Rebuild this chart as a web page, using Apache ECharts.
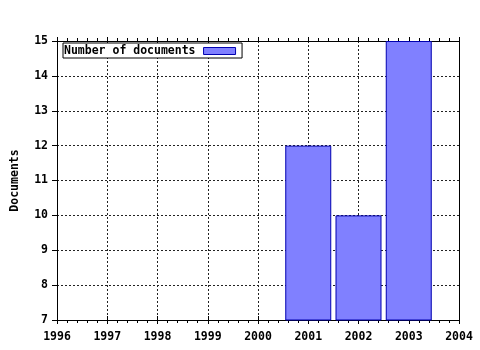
<!DOCTYPE html>
<html><head><meta charset="utf-8">
<script src="https://cdn.jsdelivr.net/npm/echarts@6/dist/echarts.min.js"></script>
<style>html,body{margin:0;padding:0;background:#fff}#c{width:480px;height:350px}</style>
</head><body><div id="c"></div>
<script>
const years = [2001, 2002, 2003];
const documents = [12, 10, 15];
const xMin = 1996, xMax = 2004;
const yMin = 7, yMax = 15;
const seriesName = 'Number of documents';
const yTitle = 'Documents';

const font = 'DejaVu Sans Mono';
const chart = echarts.init(document.getElementById('c'), null, {renderer: 'canvas'});
const labelStyle = {color: '#000', fontFamily: font, fontWeight: 'bold', fontSize: 11.5};
const gridDash = {color: '#222', type: [2, 2], width: 1};
chart.setOption({
  animation: false,
  backgroundColor: '#fff',
  grid: {left: 57, top: 41, right: 21, bottom: 30, containLabel: false},
  legend: {
    left: 63, top: 43, align: 'right', orient: 'horizontal',
    padding: [2, 6, 1, 1], borderColor: '#000', borderWidth: 1, backgroundColor: '#fff',
    itemWidth: 32, itemHeight: 7, icon: 'rect',
    itemStyle: {borderWidth: 1, borderColor: '#0000b0'},
    textStyle: Object.assign({}, labelStyle, {padding: [0, 3, 0, 0]}),
    data: [seriesName]
  },
  xAxis: [
    {type: 'value', position: 'bottom', min: xMin, max: xMax, interval: 1,
     axisLine: {lineStyle: {color: '#000', width: 1}},
     axisTick: {show: true, inside: false, length: 4, lineStyle: {color: '#000'}},
     minorTick: {show: true, splitNumber: 5, length: 3, lineStyle: {color: '#000'}},
     axisLabel: Object.assign({}, labelStyle, {margin: 11, formatter: v => String(v)}),
     splitLine: {show: true, lineStyle: gridDash}},
    {type: 'value', position: 'bottom', min: xMin, max: xMax, interval: 1,
     axisLine: {show: false}, axisTick: {show: true, inside: true, length: 4, lineStyle: {color: '#000'}},
     axisLabel: {show: false}, splitLine: {show: false}},
    {type: 'value', position: 'top', min: xMin, max: xMax, interval: 1,
     axisLine: {lineStyle: {color: '#000', width: 1}},
     axisTick: {show: true, inside: false, length: 4, lineStyle: {color: '#000'}},
     minorTick: {show: true, splitNumber: 5, length: 3, lineStyle: {color: '#000'}},
     axisLabel: {show: false}, splitLine: {show: false}}
  ],
  yAxis: [
    {type: 'value', position: 'left', min: yMin, max: yMax, interval: 1,
     name: yTitle, nameLocation: 'middle', nameGap: 36, nameRotate: 90,
     nameTextStyle: labelStyle,
     axisLine: {show: true, lineStyle: {color: '#000', width: 1}},
     axisTick: {show: true, inside: false, length: 5, lineStyle: {color: '#000'}},
     axisLabel: Object.assign({}, labelStyle, {margin: 9}),
     splitLine: {show: true, lineStyle: gridDash}},
    {type: 'value', position: 'right', min: yMin, max: yMax, interval: 1,
     axisLine: {show: true, lineStyle: {color: '#000', width: 1}},
     axisTick: {show: false}, axisLabel: {show: false}, splitLine: {show: false}}
  ],
  series: [{
    name: seriesName, type: 'bar', xAxisIndex: 0, yAxisIndex: 0,
    barWidth: 46, clip: true,
    itemStyle: {color: '#8080ff', borderColor: '#0000b0', borderWidth: 1},
    data: years.map((y, i) => [y, documents[i]])
  }]
});
</script></body></html>
